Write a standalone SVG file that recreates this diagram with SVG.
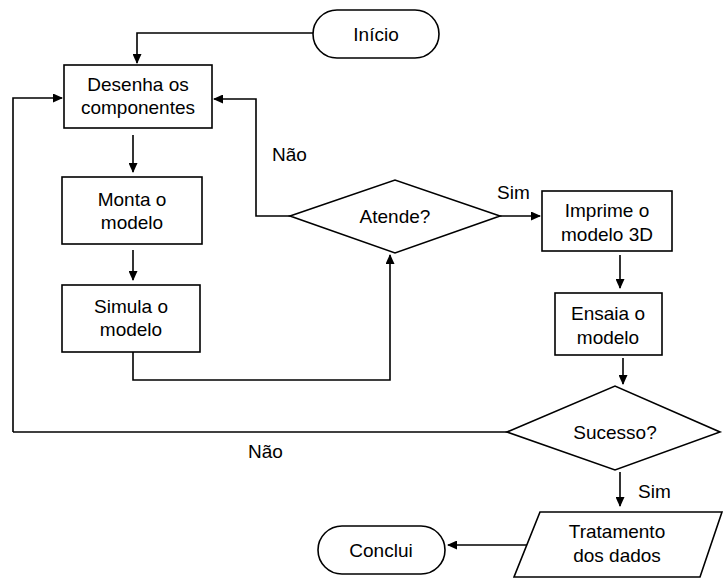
<svg xmlns="http://www.w3.org/2000/svg" width="723" height="580" viewBox="0 0 723 580">
<defs>
<marker id="ah" markerWidth="10" markerHeight="9" refX="9" refY="4.5" orient="auto" markerUnits="userSpaceOnUse">
<path d="M0,0 L10,4.5 L0,9 Z" fill="#000"/>
</marker>
<style>
.s{fill:#fff;stroke:#000;stroke-width:1.6}
.c{fill:none;stroke:#000;stroke-width:1.6}
.t{font-family:"Liberation Sans",Arial,sans-serif;font-size:19px;fill:#000;text-anchor:middle}
.l{font-family:"Liberation Sans",Arial,sans-serif;font-size:19px;fill:#000}
</style>
</defs>
<rect width="723" height="580" fill="#fff"/>
<g id="connectors">
<path class="c" d="M313,33 H137 V63" marker-end="url(#ah)"/>
<path class="c" d="M13,432 V98 H62" marker-end="url(#ah)"/>
<path class="c" d="M290,216 H256 V99 H214" marker-end="url(#ah)"/>
<path class="c" d="M133,135 V172" marker-end="url(#ah)"/>
<path class="c" d="M133,250 V280" marker-end="url(#ah)"/>
<path class="c" d="M133,352 V380 H390 V255" marker-end="url(#ah)"/>
<path class="c" d="M500,216 H540" marker-end="url(#ah)"/>
<path class="c" d="M620,255 V288" marker-end="url(#ah)"/>
<path class="c" d="M623,358 V384" marker-end="url(#ah)"/>
<path class="c" d="M507,432 H13"/>
<path class="c" d="M620,472 V506" marker-end="url(#ah)"/>
<path class="c" d="M527,545 H448" marker-end="url(#ah)"/>
<text class="l" x="272" y="161">Não</text>
<text class="l" x="497" y="199">Sim</text>
<text class="l" x="248" y="458">Não</text>
<text class="l" x="638" y="498">Sim</text>
</g>
<g id="inicio">
<rect class="s" x="313" y="10" width="126" height="48" rx="24"/>
<text class="t" x="376" y="41">Início</text>
</g>
<g id="desenha">
<rect class="s" x="64" y="65" width="148" height="63"/>
<text class="t" x="138" y="91">Desenha os</text>
<text class="t" x="138" y="114">componentes</text>
</g>
<g id="monta">
<rect class="s" x="62" y="177" width="140" height="67"/>
<text class="t" x="132" y="206">Monta o</text>
<text class="t" x="132" y="229">modelo</text>
</g>
<g id="simula">
<rect class="s" x="62" y="285" width="138" height="67"/>
<text class="t" x="131" y="313">Simula o</text>
<text class="t" x="131" y="336">modelo</text>
</g>
<g id="atende">
<polygon class="s" points="290,216 395,180 500,216 395,253"/>
<text class="t" x="395" y="223">Atende?</text>
</g>
<g id="imprime">
<rect class="s" x="542" y="191" width="130" height="60"/>
<text class="t" x="607" y="217">Imprime o</text>
<text class="t" x="607" y="241">modelo 3D</text>
</g>
<g id="ensaia">
<rect class="s" x="555" y="293" width="107" height="62"/>
<text class="t" x="608" y="320">Ensaia o</text>
<text class="t" x="608" y="344">modelo</text>
</g>
<g id="sucesso">
<polygon class="s" points="507,432 615,386 720,432 615,470"/>
<text class="t" x="615" y="439">Sucesso?</text>
</g>
<g id="tratamento">
<polygon class="s" points="540,512 722,512 700,577 514,577"/>
<text class="t" x="617" y="538">Tratamento</text>
<text class="t" x="617" y="562">dos dados</text>
</g>
<g id="conclui">
<rect class="s" x="318" y="526" width="127" height="48" rx="24"/>
<text class="t" x="381" y="557">Conclui</text>
</g>
</svg>
